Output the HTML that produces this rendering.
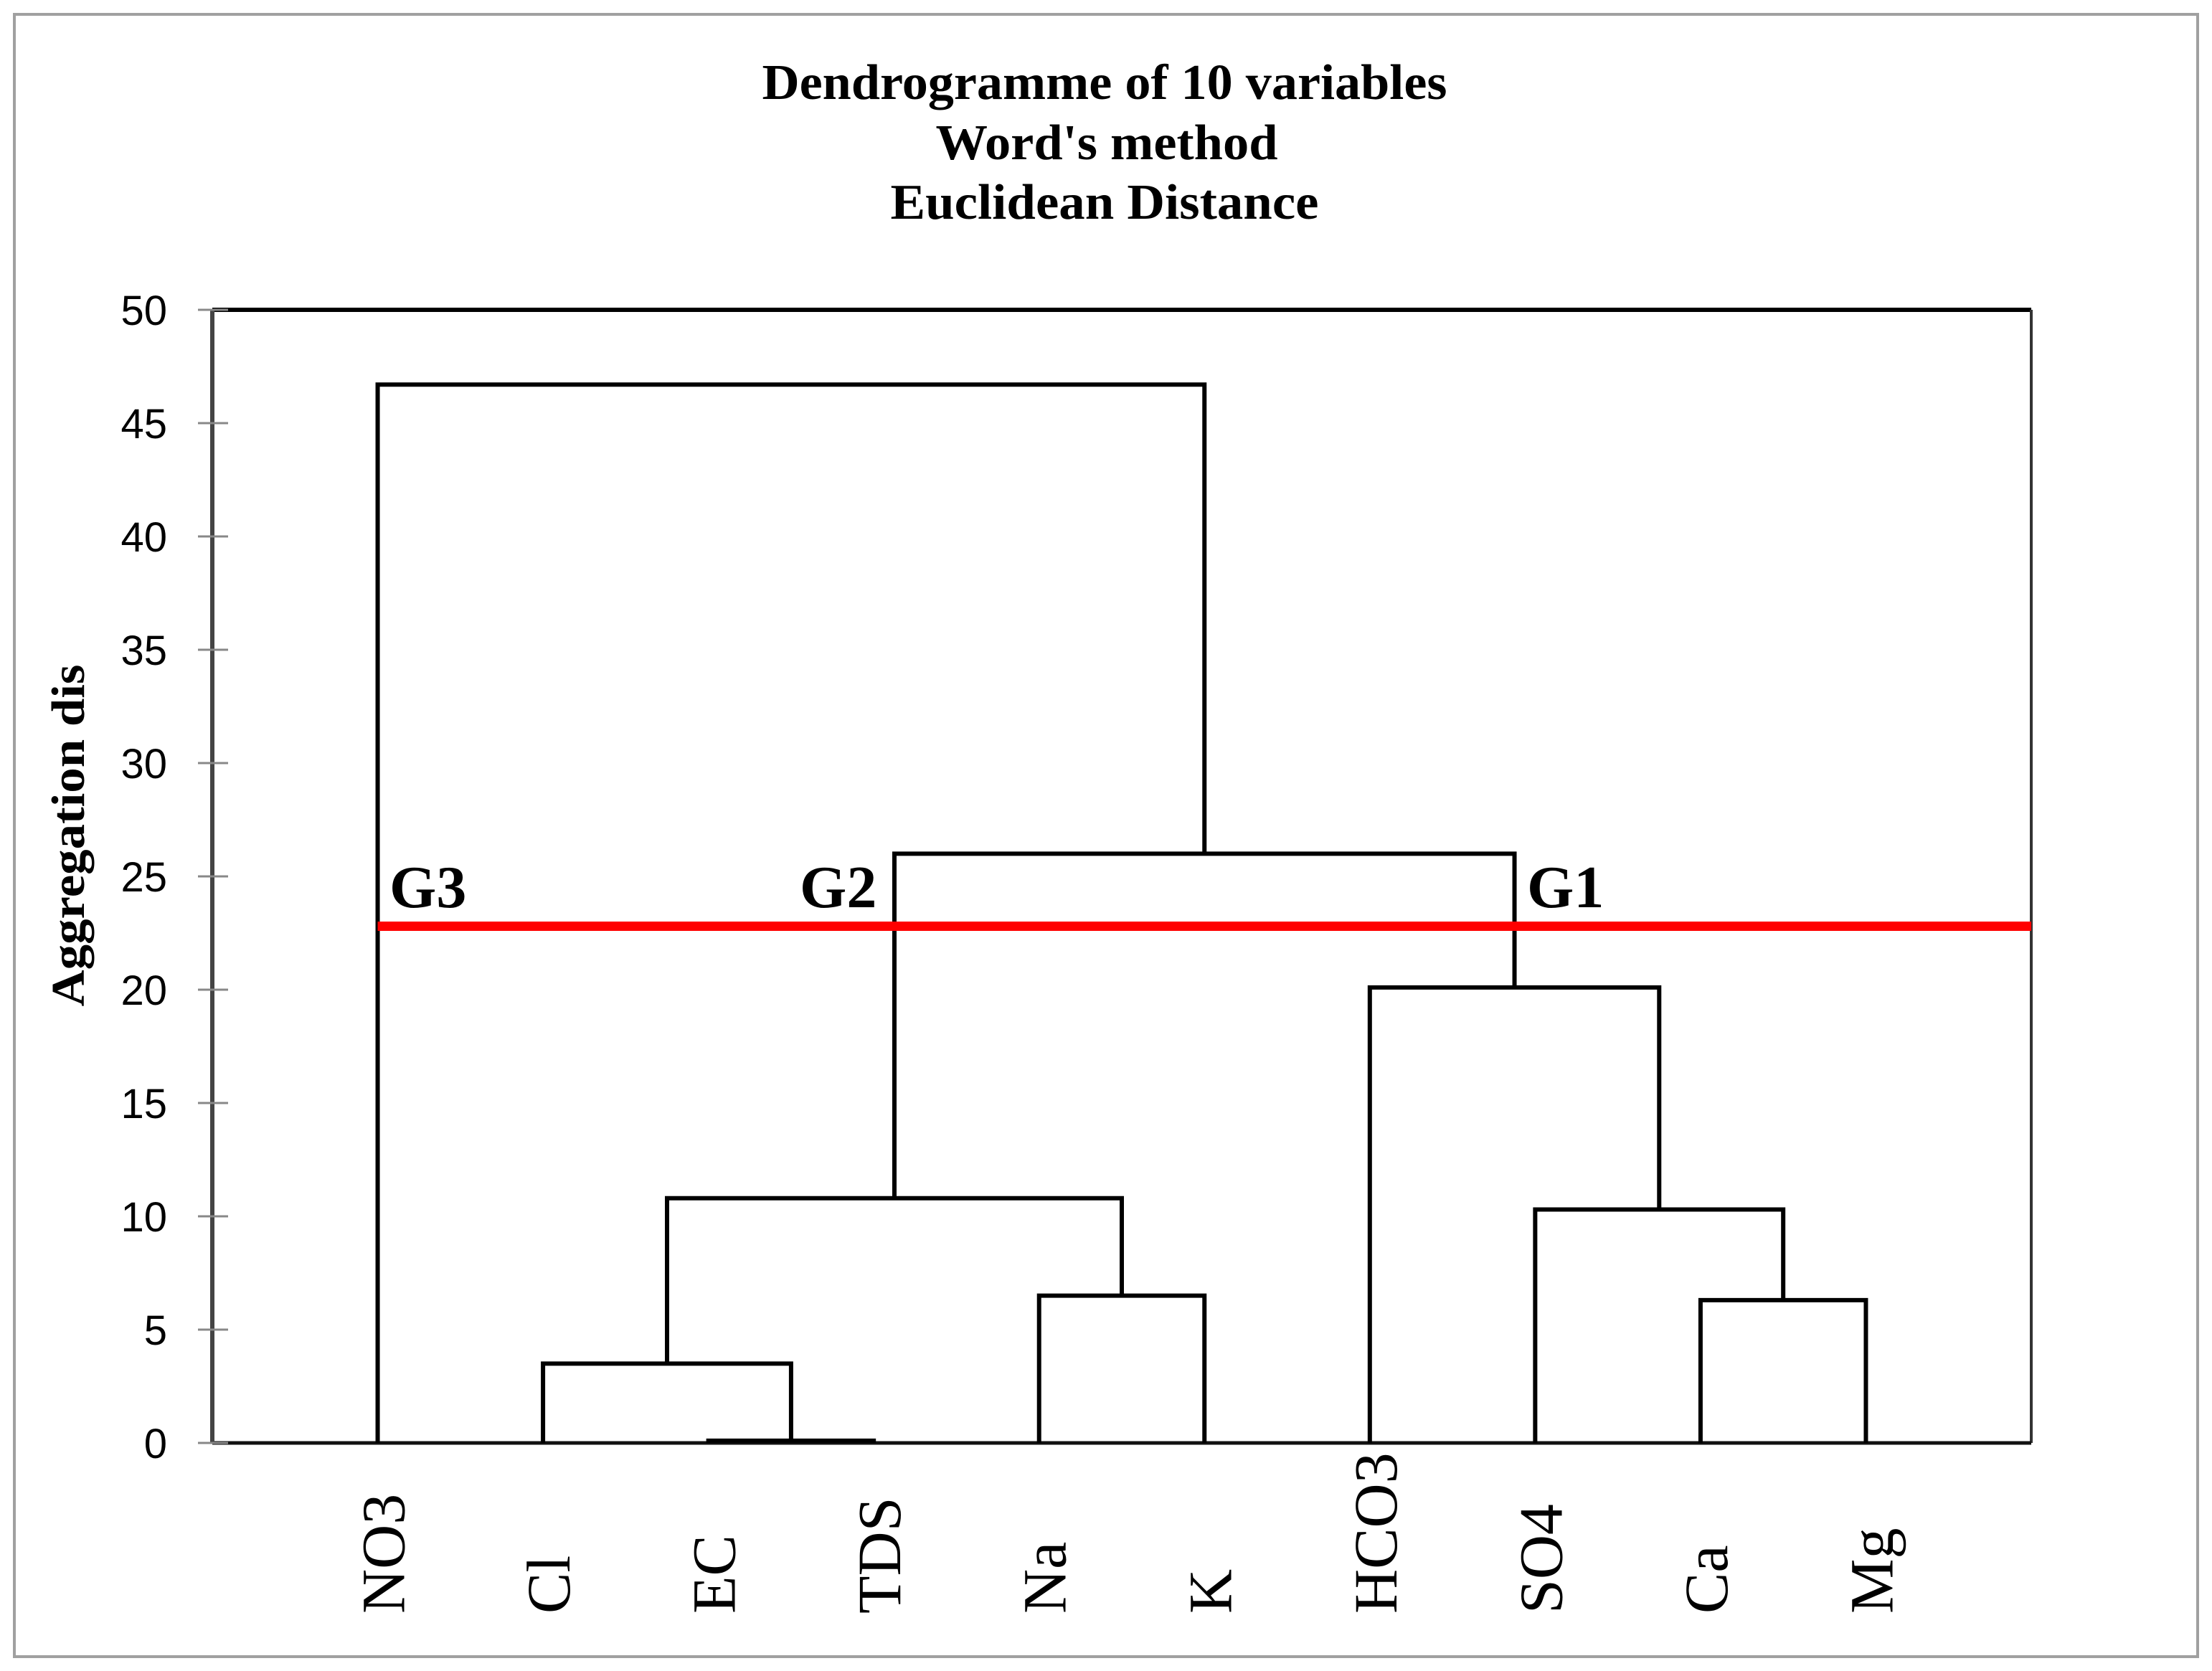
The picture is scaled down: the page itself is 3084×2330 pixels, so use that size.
<!DOCTYPE html>
<html><head><meta charset="utf-8"><style>
html,body{margin:0;padding:0;background:#fff;}
svg{display:block;}
</style></head><body>
<svg id="chart" width="3084" height="2330" viewBox="0 0 3084 2330" xmlns="http://www.w3.org/2000/svg">
<rect x="20" y="20" width="3044" height="2290" fill="#fff" stroke="#a0a0a0" stroke-width="4"/>
<g font-family="Liberation Serif, serif" font-weight="bold" font-size="70" text-anchor="middle" fill="#000">
<text x="1540" y="138" textLength="955" lengthAdjust="spacingAndGlyphs">Dendrogramme of 10 variables</text>
<text x="1543" y="222" textLength="477" lengthAdjust="spacingAndGlyphs">Word's method</text>
<text x="1540" y="305" textLength="597" lengthAdjust="spacingAndGlyphs">Euclidean Distance</text>
</g>
<text transform="translate(117,1165) rotate(-90)" font-family="Liberation Serif, serif" font-weight="bold" font-size="66" text-anchor="middle" textLength="477" lengthAdjust="spacingAndGlyphs">Aggregation dis</text>
<g id="axes"></g>
<g id="links"></g>
<g id="labels"></g>
</svg>
<script>
const leaves = ["NO3","Cl","EC","TDS","Na","K","HCO3","SO4","Ca","Mg"];
// merges: nodes 0-9 leaves, 10+ merges in order
const mergeLeft = [2, 1, 4, 8, 7, 6, 11, 16, 0];
const mergeRight = [3, 10, 5, 9, 13, 14, 12, 15, 17];
const mergeHeight = [0.1, 3.5, 6.5, 6.3, 10.3, 20.1, 10.8, 26.0, 46.7];
const yTicks = [0,5,10,15,20,25,30,35,40,45,50];
const cutHeight = 22.8;
const groupLabels = ["G3","G2","G1"];

const NS = "http://www.w3.org/2000/svg";
const X0 = 296, X1 = 2832, Y0 = 2012, Y1 = 432;
const slot = (X1 - X0) / (leaves.length + 1);
function xs(i){ return X0 + (i + 1) * slot; }
function ys(v){ return Y0 - (v - 0) / (50 - 0) * (Y0 - Y1); }
function mk(tag, attrs, parent){ const e = document.createElementNS(NS, tag); for (const k in attrs) e.setAttribute(k, attrs[k]); parent.appendChild(e); return e; }

const axes = document.getElementById('axes');
const links = document.getElementById('links');
const labels = document.getElementById('labels');

let f = mk('line', {x1:X0, y1:Y1, x2:X1, y2:Y1, stroke:'#000', 'stroke-width':6}, axes);


f = mk('line', {x1:X1, y1:Y1, x2:X1, y2:Y0, stroke:'#333', 'stroke-width':4}, axes);


f = mk('line', {x1:X0, y1:Y0, x2:X1, y2:Y0, stroke:'#111', 'stroke-width':5}, axes);


f = mk('line', {x1:X0, y1:Y1, x2:X0, y2:Y0, stroke:'#444', 'stroke-width':6}, axes);



yTicks.forEach(t => {
  const tk = mk('line', {x1:X0-20, y1:ys(t), x2:X0+22, y2:ys(t), stroke:'#888', 'stroke-width':3}, axes);
  
  
  const tl = mk('text', {x:233, y:ys(t)+21, 'text-anchor':'end', 'font-family':'Liberation Sans, sans-serif', 'font-size':58, fill:'#000'}, axes);
  tl.textContent = t;
  
  
});

const nodeX = leaves.map((_, i) => xs(i));
const nodeH = leaves.map(() => 0);
for (let m = 0; m < mergeHeight.length; m++){
  const a = mergeLeft[m], b = mergeRight[m], h = mergeHeight[m];
  const xa = nodeX[a], xb = nodeX[b];
  const p = mk('path', {d:`M${xa},${ys(nodeH[a])} V${ys(h)} H${xb} V${ys(nodeH[b])}`, fill:'none', stroke:'#000', 'stroke-width':6}, links);
  
  
  nodeX.push((xa + xb) / 2);
  nodeH.push(h);
}

leaves.forEach((name, i) => {
  const t = mk('text', {transform:`translate(${xs(i)+8},2250) rotate(-90)`, 'font-family':'Liberation Serif, serif', 'font-size':86, 'dominant-baseline':'central', fill:'#000'}, labels);
  t.textContent = name;
  
  
});

const cut = mk('line', {x1:xs(0), y1:ys(cutHeight), x2:X1, y2:ys(cutHeight), stroke:'#ff0000', 'stroke-width':13}, links);



const gx = [543, 1115, 2129];
groupLabels.forEach((g, i) => {
  const t = mk('text', {x:gx[i], y:1265, 'font-family':'Liberation Serif, serif', 'font-weight':'bold', 'font-size':84, fill:'#000'}, labels);
  t.textContent = g;
  
  
});
</script>
</body></html>
